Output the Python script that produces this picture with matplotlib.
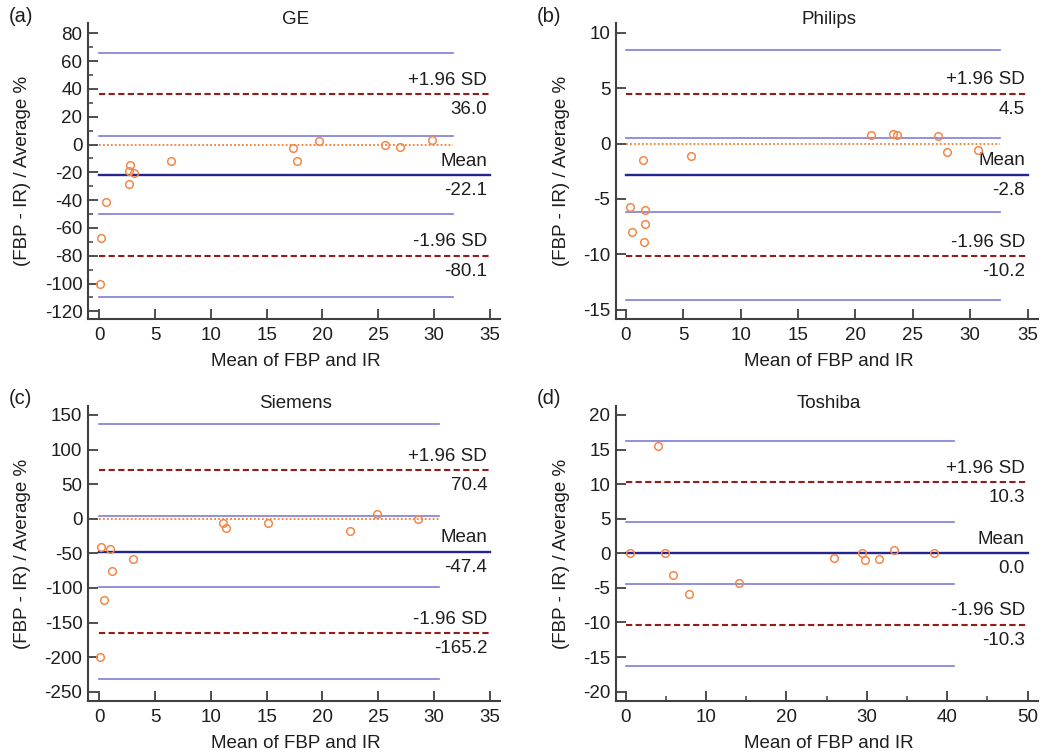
import numpy as np
import matplotlib.pyplot as plt
from matplotlib.ticker import MultipleLocator

plt.rcParams['font.family'] = ['Liberation Sans', 'DejaVu Sans']
plt.rcParams['axes.unicode_minus'] = False

# ---- data ----
ge_x = [0.1, 0.2, 0.6, 2.7, 2.7, 2.8, 3.1, 6.4, 17.4, 17.7, 19.7, 25.6, 26.9, 29.8]
ge_y = [-100, -67, -41.5, -28.5, -19, -14.5, -20.5, -11.5, -2.8, -12, 2.5, 0, -1.8, 3.6]
ge_lim = [36.0, -22.1, -80.1]          # +1.96SD, mean, -1.96SD
ge_ci = [65.5, 6.3, -50.3, -109.7]

ph_x = [0.4, 0.55, 1.5, 1.7, 1.7, 1.6, 5.7, 21.4, 23.3, 23.6, 27.2, 28.0, 30.7]
ph_y = [-5.75, -8.0, -1.45, -6.0, -7.25, -8.9, -1.1, 0.78, 0.84, 0.78, 0.66, -0.72, -0.6]
ph_lim = [4.5, -2.8, -10.2]
ph_ci = [8.5, 0.55, -6.2, -14.1]

si_x = [0.06, 0.2, 0.45, 1.0, 1.15, 3.0, 11.1, 11.4, 15.1, 22.5, 24.9, 28.6]
si_y = [-200, -40.5, -117, -44, -75.5, -58, -6, -14, -5.5, -18, 7, -1]
si_lim = [70.4, -47.4, -165.2]
si_ci = [137.5, 3.5, -98, -232]

to_x = [0.5, 4.05, 4.9, 5.9, 7.9, 14.1, 25.9, 29.4, 29.8, 31.5, 33.4, 38.4]
to_y = [0, 15.5, 0, -3.1, -5.9, -4.3, -0.7, 0.05, -0.9, -0.8, 0.5, 0]
to_lim = [10.3, 0.0, -10.3]
to_ci = [16.3, 4.5, -4.4, -16.3]

panels = [
    dict(tag='(a)', name='GE', x=ge_x, y=ge_y, lim=ge_lim, ci=ge_ci, ci_end=31.7, end=35,
         xlim=(-1, 35.9), ylim=(-125.5, 87.4), yt=(-120, 80, 20), ym=10, xt=(0, 35, 5), xm=None,
         rect=[88, 23, 500, 319]),
    dict(tag='(b)', name='Philips', x=ph_x, y=ph_y, lim=ph_lim, ci=ph_ci, ci_end=32.6, end=35,
         xlim=(-0.85, 35.9), ylim=(-15.85, 10.9), yt=(-15, 10, 5), ym=None, xt=(0, 35, 5), xm=None,
         rect=[616, 23, 1038, 319]),
    dict(tag='(c)', name='Siemens', x=si_x, y=si_y, lim=si_lim, ci=si_ci, ci_end=30.4, end=35,
         xlim=(-1, 35.9), ylim=(-263.4, 163), yt=(-250, 150, 50), ym=None, xt=(0, 35, 5), xm=None,
         rect=[88, 406, 500, 701]),
    dict(tag='(d)', name='Toshiba', x=to_x, y=to_y, lim=to_lim, ci=to_ci, ci_end=40.8, end=50,
         xlim=(-1.2, 51.3), ylim=(-21.35, 21.3), yt=(-20, 20, 5), ym=None, xt=(0, 50, 10), xm=5,
         rect=[616, 406, 1038, 701]),
]

W, H = 1042, 755
c_ci = '#7d7dd8'
c_mean = '#25258f'
c_sd = '#961c1c'
c_zero = '#f07d35'
c_pt = '#f2874a'
c_spine = '#404040'
c_txt = '#1e1e1e'
fs = 13.5

fig = plt.figure(figsize=(W / 100, H / 100), dpi=100)

for p in panels:
    l, t, r, b = p['rect']
    ax = fig.add_axes([l / W, 1 - b / H, (r - l) / W, (b - t) / H])
    ax.set_xlim(*p['xlim'])
    ax.set_ylim(*p['ylim'])

    for v in p['ci']:
        ax.plot([0, p['ci_end']], [v, v], color=c_ci, lw=1.2, zorder=2)
    ax.plot([0, p['ci_end']], [0, 0], color=c_zero, lw=1.3, ls=(0, (1, 1.2)), zorder=2)
    up, mean, lo = p['lim']
    ax.plot([0, p['end']], [mean, mean], color=c_mean, lw=1.7, zorder=3)
    for v in (up, lo):
        ax.plot([0, p['end']], [v, v], color=c_sd, lw=1.5, ls=(0, (3, 1.6)), zorder=3)

    ax.plot(p['x'], p['y'], 'o', mfc='none', mec=c_pt, ms=5.5, mew=1.1, zorder=4)

    for v, lab in zip(p['lim'], ['+1.96 SD', 'Mean', '-1.96 SD']):
        ax.annotate(lab, (p['end'], v), xytext=(-2, 4), textcoords='offset points',
                    ha='right', va='bottom', fontsize=fs, color=c_txt)
        ax.annotate(f'{v:.1f}', (p['end'], v), xytext=(-2, -5), textcoords='offset points',
                    ha='right', va='top', fontsize=fs, color=c_txt)

    ax.set_yticks(np.arange(p['yt'][0], p['yt'][1] + 0.1, p['yt'][2]))
    ax.set_xticks(np.arange(p['xt'][0], p['xt'][1] + 0.1, p['xt'][2]))
    if p['ym']:
        ax.yaxis.set_minor_locator(MultipleLocator(p['ym']))
    if p['xm']:
        ax.xaxis.set_minor_locator(MultipleLocator(p['xm']))
    ax.tick_params(which='major', direction='in', length=7, width=1.3, color=c_spine,
                   labelsize=fs, labelcolor=c_txt)
    ax.tick_params(axis='x', which='major', pad=6)
    ax.tick_params(axis='y', which='major', pad=4)
    ax.tick_params(which='minor', direction='in', length=3.5, width=1.1, color=c_spine)
    for s in ('top', 'right'):
        ax.spines[s].set_visible(False)
    for s in ('left', 'bottom'):
        ax.spines[s].set_color(c_spine)
        ax.spines[s].set_linewidth(1.5)

    cx = (l + r) / 2 + 2
    fig.text(cx / W, 1 - (t - 3) / H, p['name'], ha='center', va='center', fontsize=fs, color=c_txt)
    fig.text((l - 79) / W, 1 - (t - 7) / H, p['tag'], ha='left', va='center', fontsize=fs + 1, color=c_txt)
    fig.text((l - 65 if l < 300 else l - 54) / W, 1 - (t + b) / 2 / H, '(FBP - IR) / Average %',
             rotation=90, ha='center', va='center', fontsize=fs, color=c_txt)
    fig.text(cx / W, 1 - (b + 43) / H, 'Mean of FBP and IR', ha='center', va='center',
             fontsize=fs, color=c_txt)

fig.savefig('out.png', dpi=100)
